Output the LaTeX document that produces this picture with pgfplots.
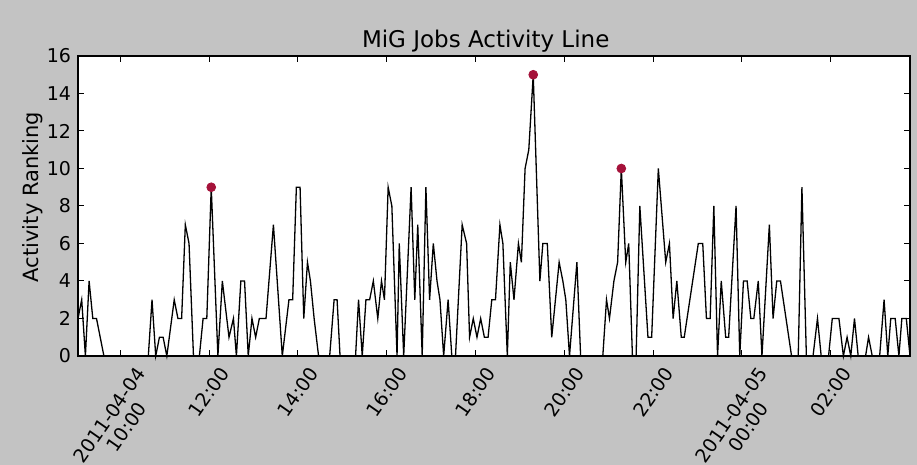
\documentclass[border=0pt]{standalone}
\usepackage{fontspec}
\setmainfont{DejaVu Sans}
\usepackage{graphicx}
\usepackage{pgfplots}
\usepackage{pgfplotstable}
\pgfplotsset{compat=1.18}

\definecolor{figbg}{gray}{0.765}
\definecolor{peak}{RGB}{165,18,58}

% minutes after 2011-04-04 10:00, activity ranking
\pgfplotstableread{
minute rank
-57 2
-52 3
-47 0
-42 4
-37 2
-32 2
-27 1
-22 0
38 0
43 3
48 0
53 1
58 1
63 0
73 3
78 2
83 2
88 7
93 6
99 0
107 0
112 2
117 2
123 9
132 0
138 4
147 1
153 2
157 0
163 4
168 4
173 0
178 2
183 1
188 2
197 2
207 7
219 0
228 3
233 3
238 9
243 9
248 2
253 5
257 4
262 2
268 0
283 0
289 3
293 3
297 0
318 0
322 3
327 0
332 3
337 3
342 4
348 2
353 4
357 3
362 9
367 8
374 0
377 6
383 0
393 9
398 3
402 7
408 0
413 9
418 3
423 6
428 4
432 3
437 0
443 3
448 0
453 0
462 7
468 6
472 1
477 2
482 1
487 2
492 1
497 1
502 3
507 3
513 7
517 6
523 0
527 5
532 3
538 6
542 5
547 10
552 11
558 15
567 4
571 6
577 6
583 1
593 5
598 4
602 3
607 0
617 5
622 0
652 0
657 3
661 2
667 4
672 5
677 10
683 5
687 6
692 0
697 0
702 8
713 1
718 1
727 10
737 5
742 6
747 2
752 4
758 1
762 1
781 6
787 6
792 2
797 2
802 8
807 0
812 4
818 1
822 1
832 8
837 0
842 4
847 4
852 2
856 2
862 4
867 0
877 7
882 2
887 4
892 4
907 0
916 0
921 9
927 0
936 0
942 2
947 0
957 0
962 2
971 2
977 0
982 1
987 0
992 2
997 0
1007 0
1011 1
1016 0
1026 0
1032 3
1037 0
1041 2
1047 2
1052 0
1056 2
1062 2
1067 0
}\activity

% highlighted peaks
\pgfplotstableread{
minute rank
123 9
558 15
677 10
}\peaks

\newcommand\datelabel[2]{\rotatebox{55}{\fontsize{9.5}{10.5}\selectfont\begin{tabular}{@{}c@{}}#1\\#2\end{tabular}}}

\begin{document}
\begin{tikzpicture}
\fill[figbg] (0,0) rectangle (458.5pt,232.5pt);
\useasboundingbox (0,0) rectangle (458.5pt,232.5pt);
\begin{axis}[
  at={(39pt,54.5pt)}, anchor=south west,
  width=416pt, height=150pt, scale only axis,
  xmin=-57, xmax=1067, ymin=0, ymax=16,
  axis background/.style={fill=white},
  axis line style={black, line width=0.6pt},
  ytick={0,2,...,16},
  xtick={120,240,360,480,600,720,960},
  xticklabels={
    {\rotatebox{55}{12:00}},
    {\rotatebox{55}{14:00}},
    {\rotatebox{55}{16:00}},
    {\rotatebox{55}{18:00}},
    {\rotatebox{55}{20:00}},
    {\rotatebox{55}{22:00}},
    {\rotatebox{55}{02:00}}},
  extra x ticks={0,840},
  extra x tick labels={
    {\datelabel{2011-04-04}{10:00}},
    {\datelabel{2011-04-05}{00:00}}},
  extra x tick style={grid=none},
  xtick pos=both, ytick pos=both,
  tick align=inside,
  major tick length=3pt,
  tick style={black, line width=0.5pt},
  ticklabel style={font=\fontsize{9.5}{11.5}\selectfont},
  xticklabel style={anchor=north, inner sep=0pt, yshift=-4.5pt},
  /pgf/number format/assume math mode=true,
  title={MiG Jobs Activity Line},
  every axis title/.style={at={(axis description cs:0.49,1)}, anchor=base, yshift=4pt, font=\fontsize{11.5}{14}\selectfont},
  ylabel={Activity Ranking},
  every axis y label/.style={at={(axis description cs:-0.054,0.53)}, rotate=90, anchor=center, font=\fontsize{10.5}{13}\selectfont},
  clip=false,
]
\addplot[black, line width=0.65pt, mark=none] table[x=minute, y=rank] {\activity};
\addplot[only marks, mark=*, mark size=2.2pt, mark options={fill=peak, draw=peak}] table[x=minute, y=rank] {\peaks};
\end{axis}
\end{tikzpicture}
\end{document}
